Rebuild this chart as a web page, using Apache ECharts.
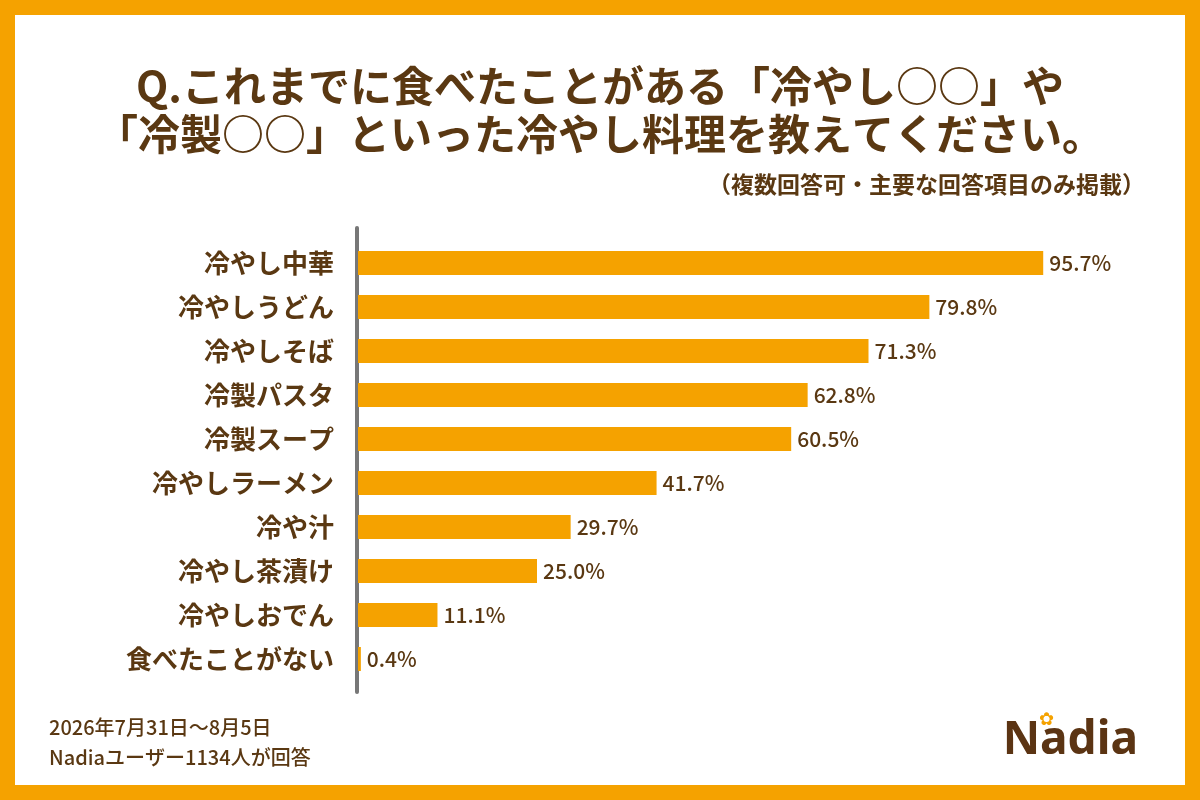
<!DOCTYPE html>
<html>
<head>
<meta charset="utf-8">
<script src="https://cdn.jsdelivr.net/npm/echarts@6/dist/echarts.min.js"></script>
<style>
html,body{margin:0;padding:0;background:#fff;}
#chart{width:1200px;height:800px;}
</style>
</head>
<body>
<div id="chart"></div>
<script>
const categories = ['冷やし中華','冷やしうどん','冷やしそば','冷製パスタ','冷製スープ','冷やしラーメン','冷や汁','冷やし茶漬け','冷やしおでん','食べたことがない'];
const values = [95.7, 79.8, 71.3, 62.8, 60.5, 41.7, 29.7, 25.0, 11.1, 0.4];
const titleLines = ['Q.これまでに食べたことがある「冷やし○○」や', '「冷製○○」といった冷やし料理を教えてください。'];
const subtitleText = '（複数回答可・主要な回答項目のみ掲載）';
const footerLines = ['2026年7月31日〜8月5日', 'Nadiaユーザー1134人が回答'];

const ORANGE = '#F5A200';
const BROWN = '#5A3812';
const FONT = '"Noto Sans CJK JP", "Noto Sans", sans-serif';

const titleStyle = {color: BROWN, fontSize: 42, fontWeight: 'bold', fontFamily: FONT};

const chart = echarts.init(document.getElementById('chart'));
chart.setOption({
  backgroundColor: '#fff',
  animation: false,
  title: [
    {text: titleLines[0], left: 'center', top: 60, textStyle: titleStyle},
    {text: titleLines[1], left: 'center', top: 108, textStyle: titleStyle},
    {
      text: subtitleText,
      right: 50,
      top: 168,
      textStyle: {color: BROWN, fontSize: 23, fontWeight: 'bold', fontFamily: FONT}
    },
    {
      text: footerLines.join('\n'),
      left: 44,
      top: 707,
      textStyle: {color: BROWN, fontSize: 20, fontWeight: 500, fontFamily: FONT, lineHeight: 30}
    }
  ],
  grid: [
    {left: 358, top: 241, height: 440, right: 126},
    {left: 356.5, top: 228, height: 464, right: 126}
  ],
  xAxis: [
    {type: 'value', gridIndex: 0, min: 0, max: 100, show: false},
    {type: 'value', gridIndex: 1, min: 0, max: 100, show: false}
  ],
  yAxis: [
    {
      type: 'category', gridIndex: 0, data: categories, inverse: true,
      axisLine: {show: false}, axisTick: {show: false}, splitLine: {show: false},
      axisLabel: {margin: 24, color: BROWN, fontSize: 26, fontWeight: 'bold', fontFamily: FONT}
    },
    {
      type: 'value', gridIndex: 1, min: 0, max: 1,
      axisLine: {show: true, lineStyle: {color: '#777', width: 4}},
      axisTick: {show: false}, axisLabel: {show: false}, splitLine: {show: false}
    }
  ],
  series: [{
    type: 'bar',
    xAxisIndex: 0, yAxisIndex: 0,
    data: values,
    barWidth: 24,
    itemStyle: {color: ORANGE},
    label: {
      show: true, position: 'right', distance: 6,
      formatter: p => p.value.toFixed(1) + '%',
      color: BROWN, fontSize: 21, fontWeight: 500, fontFamily: FONT
    }
  }],
  graphic: [
    {
      type: 'rect', silent: true, z: 100,
      shape: {x: 0, y: 0, width: 1200, height: 800},
      style: {fill: 'none', stroke: ORANGE, lineWidth: 30}
    },
    {
      type: 'text', right: 62, top: 718, z: 50,
      style: {text: 'Nadia', fill: '#5B3413', font: 'bold 46px "Noto Sans", sans-serif'}
    },
    {
      type: 'text', right: 146, top: 711, z: 51,
      style: {text: '✿', fill: ORANGE, font: '18px "DejaVu Sans", sans-serif'}
    }
  ]
});
</script>
</body>
</html>
